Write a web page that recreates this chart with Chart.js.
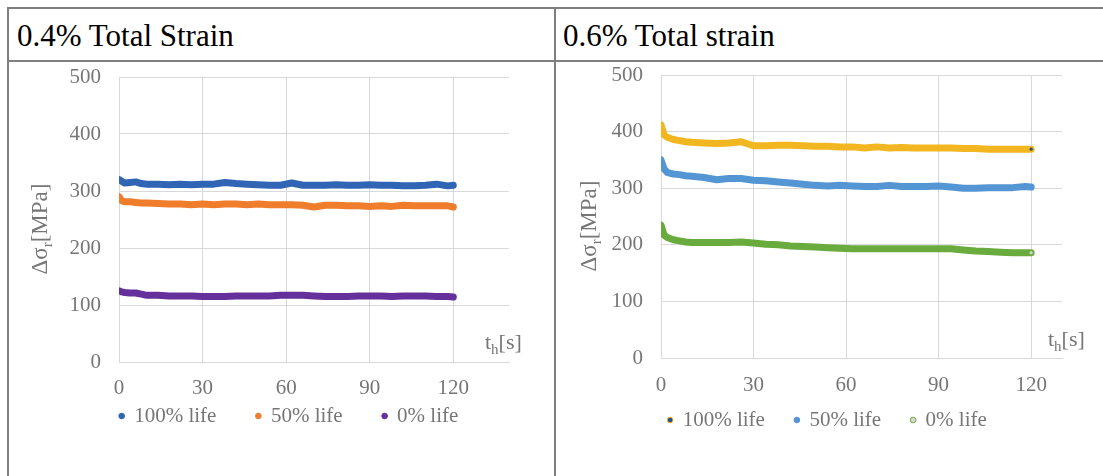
<!DOCTYPE html>
<html>
<head>
<meta charset="utf-8">
<script src="https://cdn.jsdelivr.net/npm/chart.js@4.4.1/dist/chart.umd.min.js"></script>
<style>
  body { margin: 0; background: #fff; }
  #page { position: relative; width: 1103px; height: 476px; overflow: hidden; font-family: "Liberation Serif", serif; }
  .rule { position: absolute; background: #7f7f7f; }
  .head { position: absolute; font-size: 31px; line-height: 1; color: #000; white-space: nowrap; }
  canvas { position: absolute; top: 62px; }
</style>
</head>
<body>
<div id="page">
  <div class="rule" style="left:7px;top:7px;width:1096px;height:2px"></div>
  <div class="rule" style="left:7px;top:60px;width:1096px;height:2px"></div>
  <div class="rule" style="left:7px;top:7px;width:2px;height:469px"></div>
  <div class="rule" style="left:554px;top:7px;width:2px;height:469px"></div>
  <div class="head" style="left:17px;top:20px">0.4% Total Strain</div>
  <div class="head" style="left:563px;top:20px">0.6% Total strain</div>
  <canvas id="left" width="545" height="414" style="left:9px"></canvas>
  <canvas id="right" width="547" height="414" style="left:556px"></canvas>
</div>
<script>
// hold time [s], shared by every series
const holdTime = [0, 1, 2, 4, 6, 8, 10, 14, 18, 22, 26, 30, 34, 38, 42, 46, 50, 54, 58, 62,
                  66, 70, 74, 78, 82, 86, 90, 94, 98, 102, 106, 110, 114, 118, 120];
const seriesNames = ['100% life', '50% life', '0% life'];

// 0.4% total strain
const strain04_life100 = [320, 317, 314, 315, 316, 313, 312, 312, 311, 312, 311, 312, 312, 315, 313, 312, 311, 310,
                          310, 314, 310, 310, 310, 311, 310, 310, 311, 310, 310, 309, 309, 310, 312, 309, 310];
const strain04_life50 = [290, 283, 281, 281, 280, 279, 279, 278, 277, 277, 276, 277, 276, 277, 277, 276, 277, 276,
                         276, 276, 275, 272, 275, 275, 274, 274, 273, 274, 273, 275, 274, 274, 274, 274, 272];
const strain04_life0 = [125, 123, 122, 121, 121, 119, 117, 117, 116, 116, 116, 115, 115, 115, 116, 116, 116, 116,
                        117, 117, 117, 116, 115, 115, 115, 116, 116, 116, 115, 116, 116, 116, 115, 115, 114];

// 0.6% total strain
const strain06_life100 = [412, 394, 390, 386, 384, 382, 381, 380, 379, 380, 382, 375, 375, 376, 376, 375, 374, 374,
                          373, 373, 371, 373, 371, 372, 371, 371, 371, 371, 370, 370, 369, 369, 369, 369, 369];
const strain06_life50 = [350, 334, 328, 325, 324, 322, 321, 319, 315, 317, 317, 314, 313, 311, 309, 307, 305, 304,
                         305, 304, 303, 303, 305, 303, 303, 303, 304, 302, 300, 300, 301, 301, 301, 303, 302];
const strain06_life0 = [235, 217, 213, 209, 207, 205, 204, 204, 204, 204, 205, 203, 201, 200, 198, 197, 196, 195,
                        194, 193, 193, 193, 193, 193, 193, 193, 193, 193, 191, 189, 188, 187, 186, 186, 186];

const yTicks = [0, 100, 200, 300, 400, 500];
const xTicks = [0, 30, 60, 90, 120];

const GRAY = '#767676';
const GRID = '#d9d9d9';
const SERIF = '"Liberation Serif", "Times New Roman", serif';
const FONT_PX = 21;

// draws text runs, some of them as subscripts
function drawRich(ctx, runs, x, y, center) {
  let total = 0;
  runs.forEach(r => { ctx.font = r.size + 'px ' + SERIF; r.w = ctx.measureText(r.text).width; total += r.w; });
  let cx = center ? x - total / 2 : x;
  runs.forEach(r => {
    ctx.font = r.size + 'px ' + SERIF;
    ctx.fillText(r.text, cx, y + r.dy);
    cx += r.w;
  });
}

const axisText = {
  id: 'axisText',
  afterLayout(chart, args, o) {
    // put the legend row where the reference has it
    const lg = chart.legend;
    const pad = chart.options.plugins.legend.labels.padding;
    const dy = o.legendY - (lg.top + pad + FONT_PX / 2);
    lg.top += dy;
    lg.bottom += dy;
  },
  afterDraw(chart, args, o) {
    const ctx = chart.ctx;
    const area = chart.chartArea;
    ctx.save();
    ctx.fillStyle = GRAY;
    ctx.textBaseline = 'alphabetic';
    ctx.textAlign = 'left';
    drawRich(ctx, [{text: 't', size: 22, dy: 0}, {text: 'h', size: 15, dy: 5}, {text: '[s]', size: 22, dy: 0}],
      o.thX, area.bottom - o.thUp, false);
    ctx.translate(o.titleX, o.titleY);
    ctx.rotate(-Math.PI / 2);
    drawRich(ctx, [{text: 'Δσ', size: 23, dy: 0}, {text: 'r', size: 15, dy: 5}, {text: '[MPa]', size: 23, dy: 0}],
      0, 0, true);
    ctx.restore();
  }
};

function buildChart(id, c) {
  const last = holdTime.length - 1;
  new Chart(document.getElementById(id), {
    type: 'line',
    data: {
      datasets: c.values.map((vals, i) => ({
        label: seriesNames[i],
        data: holdTime.map((t, k) => ({x: t, y: vals[k]})),
        borderColor: c.colors[i],
        backgroundColor: c.colors[i],
        legendFill: c.legendFill[i],
        borderWidth: 7,
        borderCapStyle: 'round',
        borderJoinStyle: 'round',
        pointRadius: ctx => (ctx.dataIndex === last && c.endDot[i]) ? 1.6 : 0,
        pointBackgroundColor: c.endDot[i] || c.colors[i],
        pointBorderWidth: 0,
        tension: 0
      }))
    },
    plugins: [axisText],
    options: {
      responsive: false,
      animation: false,
      layout: {padding: {left: c.padLeft, right: c.padRight, top: c.padTop, bottom: 0}},
      scales: {
        x: {
          type: 'linear', min: 0, max: c.xMax,
          afterBuildTicks: s => { s.ticks = xTicks.map(v => ({value: v})); },
          afterFit: s => { s.height = c.xHeight; s.paddingLeft = 0; s.paddingRight = c.xPadRight; },
          grid: {color: GRID, lineWidth: 1, drawTicks: false},
          border: {display: true, color: GRID, width: 1},
          ticks: {color: GRAY, font: {family: SERIF, size: FONT_PX}, padding: c.xTickPad, maxRotation: 0}
        },
        y: {
          min: 0, max: 500,
          afterBuildTicks: s => { s.ticks = yTicks.map(v => ({value: v})); },
          afterFit: s => { s.width = c.yWidth; s.paddingTop = 0; s.paddingBottom = 0; },
          grid: {color: GRID, lineWidth: 1, drawTicks: false},
          border: {display: false},
          ticks: {color: GRAY, font: {family: SERIF, size: FONT_PX}, padding: 18}
        }
      },
      plugins: {
        tooltip: {enabled: false},
        axisText: c.text,
        legend: {
          position: 'bottom',
          labels: {
            usePointStyle: true, boxWidth: 4, boxHeight: 4, padding: c.legendGap,
            color: GRAY, font: {family: SERIF, size: FONT_PX},
            generateLabels: chart => chart.data.datasets.map((ds, i) => ({
              text: ds.label, fillStyle: ds.legendFill, strokeStyle: ds.borderColor,
              lineWidth: 1, pointStyle: 'circle', datasetIndex: i, hidden: false, fontColor: GRAY
            }))
          }
        }
      }
    }
  });
}

buildChart('left', {
  values: [strain04_life100, strain04_life50, strain04_life0],
  colors: ['#3064b4', '#ef7d2b', '#66309c'],
  legendFill: ['#3064b4', '#ef7d2b', '#66309c'],
  endDot: [null, null, null],
  xMax: 140,
  padLeft: 15, padRight: 0, padTop: 15,
  yWidth: 95, xPadRight: 45, xHeight: 43, xTickPad: 14, legendGap: 40,
  text: {thX: 476, thUp: 13, titleX: 38, titleY: 167, legendY: 354}
});

buildChart('right', {
  values: [strain06_life100, strain06_life50, strain06_life0],
  colors: ['#f2b720', '#5496d4', '#6aab3e'],
  legendFill: ['#2b4f8a', '#5496d4', '#d9d9d9'],
  endDot: ['#2b4f8a', null, '#d0d0d0'],
  xMax: 130,
  padLeft: 0, padRight: 4, padTop: 13,
  yWidth: 105, xPadRight: 41, xHeight: 57, xTickPad: 15, legendGap: 30,
  text: {thX: 492, thUp: 12, titleX: 39.5, titleY: 164, legendY: 358}
});
</script>
</body>
</html>
